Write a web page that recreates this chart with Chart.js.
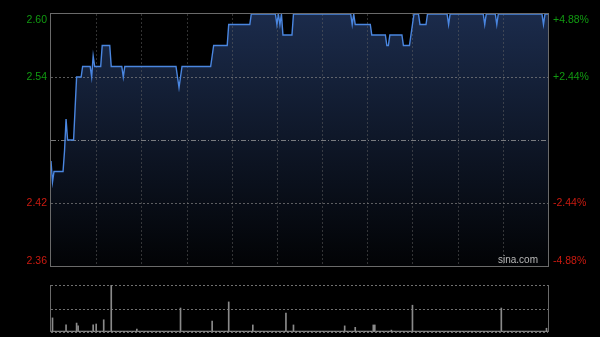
<!DOCTYPE html>
<html>
<head>
<meta charset="utf-8">
<script src="https://cdn.jsdelivr.net/npm/chart.js@4/dist/chart.umd.min.js"></script>
<style>
  html, body { margin:0; padding:0; background:#000; }
  #wrap { position:relative; width:600px; height:337px; background:#000; }
  #price { position:absolute; left:0; top:0; }
  #vol { position:absolute; left:0; top:280px; }
</style>
</head>
<body>
<div id="wrap">
  <canvas id="price" width="600" height="272"></canvas>
  <canvas id="vol" width="600" height="57"></canvas>
</div>
<script>
// intraday price, run-length: price level and how many minutes it held
const runPrice = [2.46,2.44,2.45,2.47,2.50,2.48,2.51,2.54,2.55,2.54,2.56,2.55,2.57,2.55,2.54,2.55,2.54,2.53,2.54,2.55,2.56,2.57,2.59,2.60,2.59,2.60,2.59,2.60,2.58,2.60,2.59,2.60,2.59,2.58,2.57,2.58,2.57,2.58,2.59,2.60,2.59,2.60,2.59,2.60,2.59,2.60,2.59,2.60,2.59,2.60];
const runLen   = [1,1,7,1,1,5,1,4,6,1,1,5,6,8,1,35,1,1,1,20,1,10,15,17,1,1,1,1,7,39,1,1,11,10,2,9,5,1,1,4,5,14,1,23,1,7,1,30,1,3];

const prevClose = 2.48;
const priceMin = 2.36, priceMax = 2.60;
const leftTicks = ['2.60','2.54','2.42','2.36'];
const leftTickVals = [2.60,2.54,2.42,2.36];
const rightTicks = ['+4.88%','+2.44%','-2.44%','-4.88%'];

// volume: thin baseline plus the visible spikes
const volBase = 2;
const volSpikeIdx = [1,10,17,18,28,30,35,40,57,86,107,118,134,156,161,195,202,214,215,226,240,299,329];
const volSpikeVal = [30,15,19,13,15,17,26,100,6,51,23,64,15,40,15,13,10,15,15,4,57,51,8];

const totalMin = 330;

// build point tables
const pricePts = [];
let k = 0;
runPrice.forEach((p,i)=>{ for(let j=0;j<runLen[i];j++){ pricePts.push({x:k,y:p}); k++; } });
const volPts = [];
for(let i=0;i<=totalMin;i++) volPts.push({x:i,y:volBase});
volSpikeIdx.forEach((ix,i)=>{ volPts[ix].y = volSpikeVal[i]; });

const FONT = '10.5px "Liberation Sans", Arial, sans-serif';
const GREEN = '#119a11', RED = '#cc1a10';

function hline(ctx, a, y, dash, color){
  ctx.save(); ctx.strokeStyle = color; ctx.lineWidth = 1; ctx.setLineDash(dash);
  ctx.beginPath(); ctx.moveTo(a.left, Math.round(y)+0.5); ctx.lineTo(a.right, Math.round(y)+0.5); ctx.stroke(); ctx.restore();
}
function vline(ctx, a, x, dash, color){
  ctx.save(); ctx.strokeStyle = color; ctx.lineWidth = 1; ctx.setLineDash(dash);
  ctx.beginPath(); ctx.moveTo(Math.round(x)+0.5, a.top); ctx.lineTo(Math.round(x)+0.5, a.bottom); ctx.stroke(); ctx.restore();
}

const priceDeco = {
  id:'priceDeco',
  afterDatasetDraw(chart, args){
    if(args.index !== 1) return;          // after the fill, before the line
    const ctx = chart.ctx, a = chart.chartArea, xs = chart.scales.x, ys = chart.scales.y;
    for(let m=30;m<totalMin;m+=30) vline(ctx, a, xs.getPixelForValue(m), [2,2], 'rgba(100,100,100,0.5)');
    hline(ctx, a, ys.getPixelForValue(2.54), [2,2], 'rgba(130,130,130,0.7)');
    hline(ctx, a, ys.getPixelForValue(2.42), [2,2], 'rgba(130,130,130,0.7)');
    hline(ctx, a, ys.getPixelForValue(prevClose), [5,2,1,2], 'rgba(150,150,150,0.8)');
  },
  afterDraw(chart){
    const ctx = chart.ctx, a = chart.chartArea, ys = chart.scales.y;
    ctx.save();
    ctx.strokeStyle = '#6a6a6a'; ctx.lineWidth = 1;
    ctx.strokeRect(a.left-0.5, a.top-0.5, a.right-a.left+1, a.bottom-a.top+1);
    ctx.font = FONT;
    leftTickVals.forEach((v,i)=>{
      const y = ys.getPixelForValue(v);
      ctx.textBaseline = i===0 ? 'top' : (i===leftTickVals.length-1 ? 'bottom' : 'middle');
      const yy = i===0 ? y+1 : y;
      ctx.fillStyle = v > prevClose ? GREEN : RED;
      ctx.textAlign = 'right'; ctx.fillText(leftTicks[i], a.left-4, yy);
      ctx.textAlign = 'left'; ctx.fillText(rightTicks[i], a.right+5, yy);
    });
    ctx.fillStyle = '#b8b8b8'; ctx.font = '10px "Liberation Sans", Arial, sans-serif';
    ctx.textAlign = 'right'; ctx.textBaseline = 'bottom';
    ctx.fillText('sina.com', a.right-10, a.bottom-1);
    ctx.restore();
  }
};

const pctx = document.getElementById('price').getContext('2d');
new Chart(pctx, {
  type:'line',
  data:{ datasets:[
    { data: pricePts, borderColor:'#4a86e0', borderWidth:1.4, pointRadius:0, fill:false, tension:0, order:0 },
    { data: pricePts, borderWidth:0, pointRadius:0, tension:0, fill:'start',
      backgroundColor: (c)=>{
        const a = c.chart.chartArea; if(!a) return 'rgba(20,35,60,1)';
        const g = c.chart.ctx.createLinearGradient(0,a.top,0,a.bottom);
        g.addColorStop(0,'rgb(27,43,75)'); g.addColorStop(1,'rgb(2,3,5)'); return g;
      }, order:1 }
  ]},
  options:{
    responsive:false, animation:false, events:[],
    layout:{ padding:{ left:51, right:52, top:14, bottom:6 } },
    plugins:{ legend:{display:false}, tooltip:{enabled:false} },
    scales:{
      x:{ type:'linear', min:0, max:totalMin, display:false },
      y:{ min:priceMin, max:priceMax, display:false }
    }
  },
  plugins:[priceDeco]
});

const volDeco = {
  id:'volDeco',
  beforeDatasetsDraw(chart){
    const ctx = chart.ctx, a = chart.chartArea, ys = chart.scales.y;
    hline(ctx, a, ys.getPixelForValue(100), [2,2], 'rgba(140,140,140,0.8)');
    hline(ctx, a, ys.getPixelForValue(50), [2,2], 'rgba(140,140,140,0.8)');
    hline(ctx, a, ys.getPixelForValue(0), [2,2], 'rgba(140,140,140,0.8)');
    vline(ctx, a, a.left-1, [], '#6a6a6a');
    vline(ctx, a, a.right, [], '#6a6a6a');
  }
};

new Chart(document.getElementById('vol').getContext('2d'), {
  type:'bar',
  data:{ datasets:[{ data: volPts, backgroundColor:'#8a8a8a', barThickness:1, borderWidth:0 }] },
  options:{
    responsive:false, animation:false, events:[],
    layout:{ padding:{ left:51, right:52, top:5, bottom:5 } },
    plugins:{ legend:{display:false}, tooltip:{enabled:false} },
    scales:{
      x:{ type:'linear', min:0, max:totalMin, display:false, offset:false },
      y:{ min:0, max:100, display:false }
    }
  },
  plugins:[volDeco]
});
</script>
</body>
</html>
